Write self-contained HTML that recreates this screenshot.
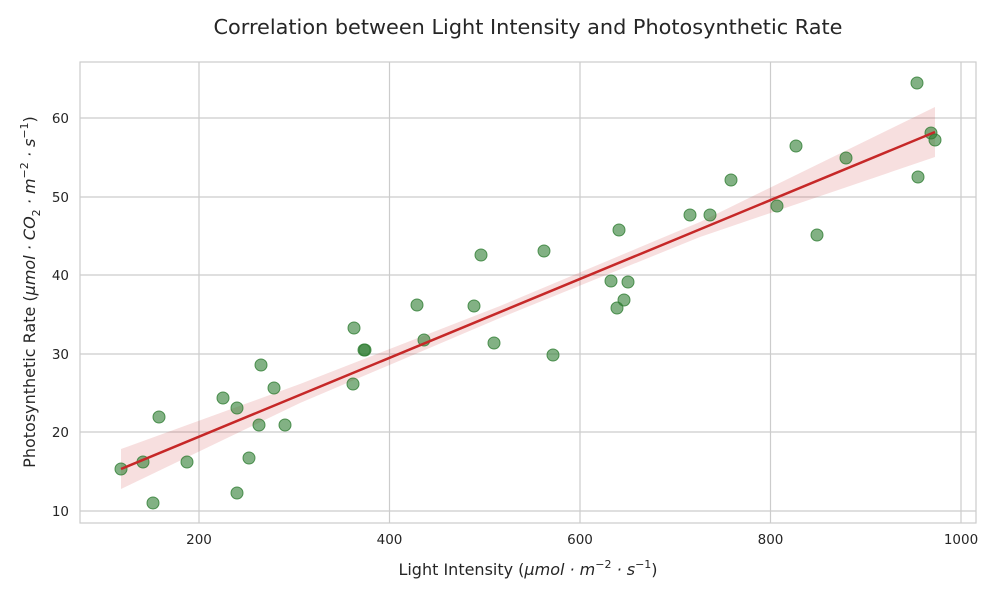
<!DOCTYPE html>
<html><head><meta charset="utf-8"><style>
html,body{margin:0;padding:0;background:#fff;}
svg{display:block;font-family:"DejaVu Sans","Liberation Sans",sans-serif;}
</style></head><body>
<svg width="1000" height="600" viewBox="0 0 1000 600" xmlns="http://www.w3.org/2000/svg">
<rect width="1000" height="600" fill="#fff"/>
<text x="528" y="34" text-anchor="middle" font-size="20.5" fill="#262626" textLength="629" lengthAdjust="spacingAndGlyphs">Correlation between Light Intensity and Photosynthetic Rate</text>
<g stroke="#cccccc" stroke-width="1.2">
<line x1="199" y1="62" x2="199" y2="523"/><line x1="389.5" y1="62" x2="389.5" y2="523"/>
<line x1="580" y1="62" x2="580" y2="523"/><line x1="770.5" y1="62" x2="770.5" y2="523"/>
<line x1="961" y1="62" x2="961" y2="523"/>
<line x1="80" y1="118" x2="976" y2="118"/><line x1="80" y1="197" x2="976" y2="197"/>
<line x1="80" y1="275" x2="976" y2="275"/><line x1="80" y1="354" x2="976" y2="354"/>
<line x1="80" y1="432" x2="976" y2="432"/><line x1="80" y1="511" x2="976" y2="511"/>
</g>
<rect x="80" y="62" width="896" height="461" fill="none" stroke="#cccccc" stroke-width="1.2"/>
<g font-size="13.5" fill="#262626" text-anchor="middle">
<text x="199" y="544">200</text><text x="389.5" y="544">400</text><text x="580" y="544">600</text><text x="770.5" y="544">800</text><text x="961" y="544">1000</text>
</g>
<g font-size="13.5" fill="#262626" text-anchor="end">
<text x="69" y="123">60</text><text x="69" y="202">50</text><text x="69" y="280">40</text><text x="69" y="359">30</text><text x="69" y="437">20</text><text x="69" y="516">10</text>
</g>
<text x="528" y="575" text-anchor="middle" font-size="16" fill="#262626">Light Intensity (<tspan font-style="italic">μmol · m</tspan><tspan font-size="11" dy="-7">−2</tspan><tspan dy="7" font-style="italic"> · s</tspan><tspan font-size="11" dy="-7">−1</tspan><tspan dy="7">)</tspan></text>
<text transform="translate(35,292) rotate(-90)" text-anchor="middle" font-size="16" fill="#262626">Photosynthetic Rate (<tspan font-style="italic">μmol · CO</tspan><tspan font-size="11" dy="5">2</tspan><tspan dy="-5" font-style="italic"> · m</tspan><tspan font-size="11" dy="-7">−2</tspan><tspan dy="7" font-style="italic"> · s</tspan><tspan font-size="11" dy="-7">−1</tspan><tspan dy="7">)</tspan></text>
<polygon points="121,449 300,384 500,306 700,222 935,107 935,157 700,237 500,318 300,403 121,489" fill="#c62828" fill-opacity="0.15"/>
<g fill="#2e7d32" fill-opacity="0.6" stroke="#2e7d32" stroke-opacity="0.8" stroke-width="1">
<circle cx="121" cy="469" r="6"/><circle cx="143" cy="462" r="6"/><circle cx="153" cy="503" r="6"/><circle cx="159" cy="417" r="6"/>
<circle cx="187" cy="462" r="6"/><circle cx="223" cy="398" r="6"/><circle cx="237" cy="408" r="6"/><circle cx="237" cy="493" r="6"/>
<circle cx="249" cy="458" r="6"/><circle cx="259" cy="425" r="6"/><circle cx="261" cy="365" r="6"/><circle cx="274" cy="388" r="6"/>
<circle cx="285" cy="425" r="6"/><circle cx="353" cy="384" r="6"/><circle cx="354" cy="328" r="6"/><circle cx="364" cy="350" r="6"/>
<circle cx="365" cy="350" r="6"/><circle cx="417" cy="305" r="6"/><circle cx="424" cy="340" r="6"/><circle cx="474" cy="306" r="6"/>
<circle cx="481" cy="255" r="6"/><circle cx="494" cy="343" r="6"/><circle cx="544" cy="251" r="6"/><circle cx="553" cy="355" r="6"/>
<circle cx="611" cy="281" r="6"/><circle cx="617" cy="308" r="6"/><circle cx="619" cy="230" r="6"/><circle cx="624" cy="300" r="6"/>
<circle cx="628" cy="282" r="6"/><circle cx="690" cy="215" r="6"/><circle cx="710" cy="215" r="6"/><circle cx="731" cy="180" r="6"/>
<circle cx="777" cy="206" r="6"/><circle cx="796" cy="146" r="6"/><circle cx="817" cy="235" r="6"/><circle cx="846" cy="158" r="6"/>
<circle cx="917" cy="83" r="6"/><circle cx="918" cy="177" r="6"/><circle cx="931" cy="133" r="6"/><circle cx="935" cy="140" r="6"/>
</g>
<line x1="121" y1="469" x2="935" y2="132" stroke="#c62828" stroke-width="2.5"/>
</svg>
</body></html>
